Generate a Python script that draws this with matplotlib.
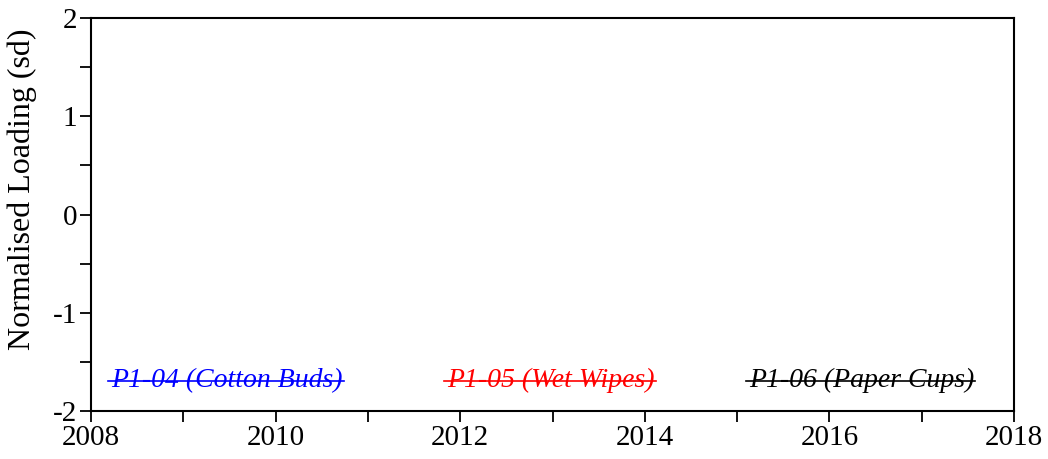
import matplotlib
matplotlib.use('Agg')
import matplotlib.pyplot as plt
from matplotlib.ticker import MultipleLocator
from matplotlib.lines import Line2D

plt.rcParams['font.family'] = ['Liberation Serif', 'DejaVu Serif']
plt.rcParams['axes.unicode_minus'] = False

# series shown on the (empty) panel
names = ['P1-04 (Cotton Buds)', 'P1-05 (Wet Wipes)', 'P1-06 (Paper Cups)']
colors = ['#0000ff', '#ff0000', '#000000']
xlim = (2008, 2018)
ylim = (-2, 2)
xticks = [2008, 2010, 2012, 2014, 2016, 2018]
yticks = [-2, -1, 0, 1, 2]

# label anchors (layout)
lab_x = [2008.22, 2011.86, 2015.13]
lab_y = -1.69

fig = plt.figure(figsize=(10.48, 4.59), dpi=100)
ax = fig.add_axes([91/1048, 1-411/459, (1014-91)/1048, (411-18)/459])
ax.set_xlim(*xlim); ax.set_ylim(*ylim)
ax.set_xticks(xticks); ax.set_yticks(yticks)
ax.xaxis.set_minor_locator(MultipleLocator(1))
ax.yaxis.set_minor_locator(MultipleLocator(0.5))
ax.tick_params(which='both', direction='out', length=8, width=1.3, labelsize=21, top=False, right=False)
ax.tick_params(axis='y', pad=2)
ax.tick_params(axis='x', pad=2)
for s in ax.spines.values(): s.set_linewidth(1.5)
ax.set_ylabel('Normalised Loading (sd)', fontsize=23)
ax.yaxis.set_label_coords(-0.058, 0.565)

texts = []
for n, c, x in zip(names, colors, lab_x):
    texts.append(ax.text(x, lab_y, n, color=c, fontsize=20, style='italic', ha='left', va='center'))

fig.canvas.draw()
r = fig.canvas.get_renderer()
inv = ax.transData.inverted()
for t, c in zip(texts, colors):
    bb = t.get_window_extent(r)
    (x0, _), (x1, _) = inv.transform([(bb.x0 - 3, 0), (bb.x1 + 1, 0)])
    ax.add_line(Line2D([x0, x1], [lab_y, lab_y], color=c, lw=1.2))

fig.savefig('out.png', dpi=100)
